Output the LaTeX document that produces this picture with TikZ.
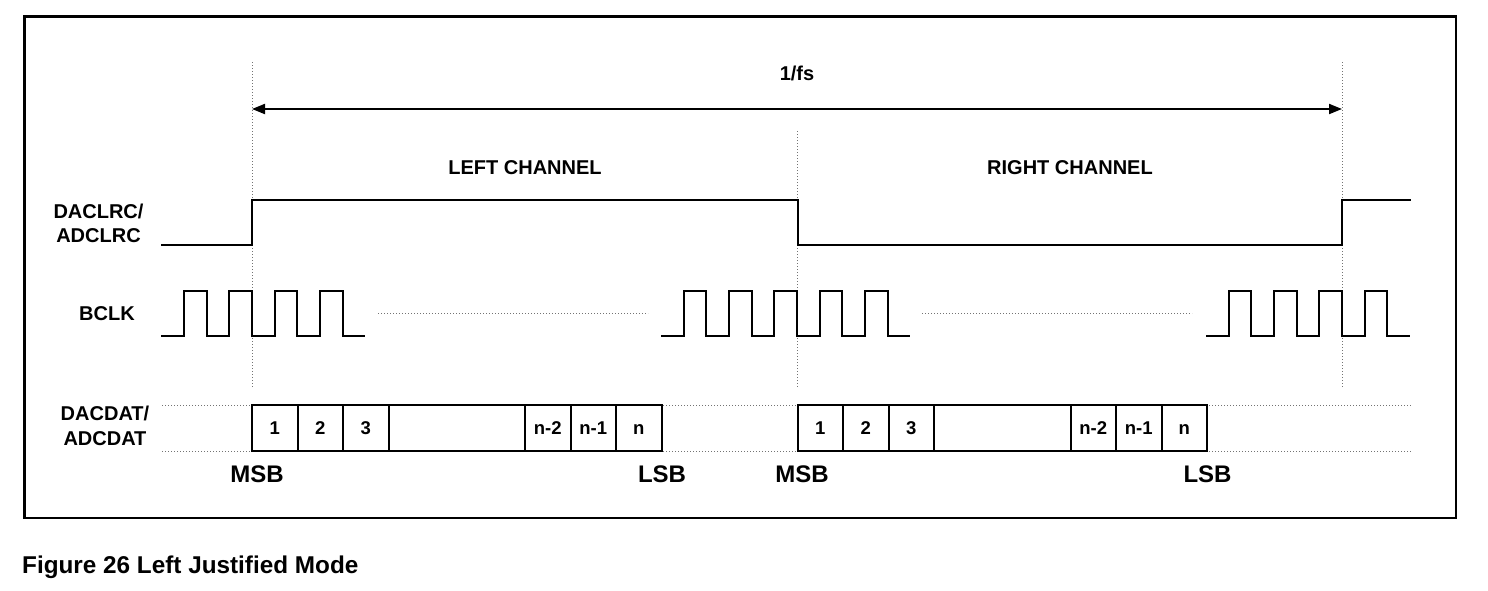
\documentclass[tikz,border=0pt]{standalone}
\usepackage{fontspec}
\setmainfont{Liberation Sans}
\usetikzlibrary{arrows.meta}
\begin{document}
\begin{tikzpicture}[x=1pt,y=-1pt,
  wave/.style={line width=2pt, line join=miter},
  guide/.style={black!55, line width=1pt, dash pattern=on 1pt off 2pt},
  lbl/.style={font=\bfseries\fontsize{20}{24}\selectfont, align=center, inner sep=0pt},
  big/.style={font=\bfseries\fontsize{24}{28}\selectfont, inner sep=0pt},
  cell/.style={draw, line width=2pt, fill=white, minimum height=46pt, inner sep=0pt, outer sep=0pt, anchor=west,
    text height=13.4pt, text depth=0pt, font=\bfseries\fontsize{18.5}{20}\selectfont},
  dim/.style={line width=2pt, {Triangle[length=13pt,width=10pt]}-{Triangle[length=13pt,width=10pt]}}]
\useasboundingbox (0,0) rectangle (1488,590);
\fill[white] (0,0) rectangle (1488,590);
% frame
\draw[line width=2.5pt] (24.5,16.5) rectangle (1456,518);
% vertical guides
\coordinate (t0top) at (252,62);   \coordinate (t0bot) at (252,388);
\coordinate (t1top) at (797.5,131); \coordinate (t1bot) at (797.5,388);
\coordinate (t2top) at (1342,62);  \coordinate (t2bot) at (1342,388);
\draw[guide] (t0top) -- (t0bot);
\draw[guide] (t1top) -- (t1bot);
\draw[guide] (t2top) -- (t2bot);
% 1/fs
\coordinate (a1) at (252,109);
\coordinate (a2) at (1342,109);
\draw[dim] (a1) -- (a2);
\node[lbl] (fs) at (797,73.5) {1/fs};
\node[lbl] (lch) at (525,167.5) {LEFT CHANNEL};
\node[lbl] (rch) at (1070,167.5) {RIGHT CHANNEL};
% labels
\node[lbl] (lrc) at (98.5,223.5) {DACLRC/\\ADCLRC};
\node[lbl] (bclk) at (107,313.5) {BCLK};
\node[lbl, font=\bfseries\fontsize{20}{25}\selectfont] (dat) at (105,425.5) {DACDAT/\\ADCDAT};
% DACLRC
\draw[wave] (161,245) -- (252,245) -- (252,199.5) -- (797.5,199.5) -- (797.5,245)
  -- (1342,245) -- (1342,199.5) -- (1411,199.5);
% BCLK
\def\lo{335.7}\def\hi{290.7}\def\hh{22.67}
\draw[wave] (161.3,\lo) foreach \r in {184,229.3,274.7,320} { -- (\r,\lo) -- (\r,\hi) -- ({\r+\hh},\hi) -- ({\r+\hh},\lo) } -- (365.3,\lo);
\draw[wave] (661,\lo) foreach \r in {683.7,729,774.3,819.7,865} { -- (\r,\lo) -- (\r,\hi) -- ({\r+\hh},\hi) -- ({\r+\hh},\lo) } -- (910.3,\lo);
\draw[wave] (1206,\lo) foreach \r in {1228.7,1274,1319.3,1364.7} { -- (\r,\lo) -- (\r,\hi) -- ({\r+\hh},\hi) -- ({\r+\hh},\lo) } -- (1410,\lo);
\draw[guide] (378,313) -- (648,313);
\draw[guide] (922,313) -- (1192,313);
% data lines
\draw[guide] (162,405) -- (1411,405);
\draw[guide] (162,451) -- (1411,451);
% data cells
\foreach \o/\c in {0/L,545.5/R}{
  \node[cell, minimum width=45.5pt] (\c1) at (252+\o,428) {1};
  \node[cell, minimum width=45.5pt] (\c2) at (\c1.east) {2};
  \node[cell, minimum width=45.5pt] (\c3) at (\c2.east) {3};
  \node[cell, minimum width=136.5pt] (\c4) at (\c3.east) {};
  \node[cell, minimum width=45.5pt] (\c5) at (\c4.east) {n-2};
  \node[cell, minimum width=45.5pt] (\c6) at (\c5.east) {n-1};
  \node[cell, minimum width=45.5pt] (\c7) at (\c6.east) {n};
}
\node[big] (msbl) at (257,474) {MSB};
\node[big] (lsbl) at (662,474) {LSB};
\node[big] (msbr) at (802,474) {MSB};
\node[big] (lsbr) at (1207.5,474) {LSB};
% caption
\node[font=\bfseries\fontsize{24.3}{28}\selectfont, anchor=base west, inner sep=0pt] (cap) at (22,573) {Figure 26 Left Justified Mode};
\end{tikzpicture}
\end{document}
